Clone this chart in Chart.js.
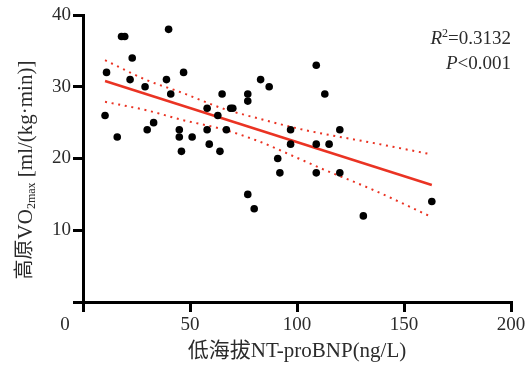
<!DOCTYPE html>
<html>
<head>
<meta charset="utf-8">
<script src="https://cdn.jsdelivr.net/npm/chart.js@4.4.1/dist/chart.umd.min.js"></script>
<style>
  html, body { margin: 0; padding: 0; background: #fff; }
</style>
</head>
<body>
<canvas id="chart" width="531" height="367"></canvas>
<script>
// low-altitude NT-proBNP (ng/L) vs high-altitude VO2max, one entry per subject
const bnpValues = [10.3, 11, 16, 18, 19.5, 23, 22, 29, 30, 33, 40, 39, 41, 47, 45, 45, 46, 51,
    58, 58, 59, 63, 65, 67, 64, 69, 70, 77, 77, 83, 87, 91, 97, 97, 92, 77, 80,
    109, 113, 109, 115, 120, 109, 120, 163, 131];
const vo2Values = [26, 32, 23, 37, 37, 34, 31, 30, 24, 25, 38, 31, 29, 32, 24, 23, 21, 23,
    27, 24, 22, 26, 29, 24, 21, 27, 27, 29, 28, 31, 30, 20, 24, 22, 18, 15, 13,
    33, 29, 22, 22, 24, 18, 18, 14, 12];

// fitted line and its 95% band
const fitX = [10.3, 163];
const fitY = [30.8, 16.3];
const bandX = [10.3, 30, 46, 65, 83, 100, 113, 135, 162.5];
const bandUpper = [33.7, 30.9, 29.2, 27.0, 25.5, 24.2, 23.4, 22.2, 20.6];
const bandLower = [27.9, 26.7, 25.4, 24.1, 22.3, 20.1, 18.4, 15.7, 11.9];

const xTicks = [0, 50, 100, 150, 200];
const yTicks = [0, 10, 20, 30, 40];

const SERIF = "'Liberation Serif', 'Noto Sans CJK SC', serif";
const TEXT = '#2b2b2b';
const RED = '#ea3323';

const toPoints = (xs, ys) => xs.map((x, i) => ({ x: x, y: ys[i] }));

// text the axes can't do by themselves: shared origin 0, stats, y title with subscript
const extraText = {
    id: 'extraText',
    afterDraw(chart) {
        const { ctx, scales } = chart;
        const x = scales.x, y = scales.y;
        ctx.save();
        ctx.fillStyle = TEXT;
        ctx.textBaseline = 'alphabetic';

        ctx.font = '19px ' + SERIF;
        ctx.textAlign = 'center';
        ctx.fillText('0', x.left - 18, y.bottom + 28);

        // R² / P, right aligned at the plot's right edge
        const right = x.right;
        ctx.textAlign = 'left';
        const parts1 = [
            ['italic 19px ' + SERIF, 'R', 0],
            ['12px ' + SERIF, '2', -7],
            ['19px ' + SERIF, '=0.3132', 0]
        ];
        const parts2 = [
            ['italic 19px ' + SERIF, 'P', 0],
            ['19px ' + SERIF, '<0.001', 0]
        ];
        const drawRight = (parts, baseline) => {
            let w = 0;
            parts.forEach(p => { ctx.font = p[0]; w += ctx.measureText(p[1]).width; });
            let cx = right - w;
            parts.forEach(p => {
                ctx.font = p[0];
                ctx.fillText(p[1], cx, baseline + p[2]);
                cx += ctx.measureText(p[1]).width;
            });
        };
        drawRight(parts1, 44);
        drawRight(parts2, 69);

        // rotated y-axis title
        const yParts = [
            ['20px ' + SERIF, '高原', 0],
            ['21px ' + SERIF, 'VO', 0],
            ['12px ' + SERIF, '2max', 6],
            ['21px ' + SERIF, ' [ml/(kg·min)]', 0]
        ];
        let total = 0;
        yParts.forEach(p => { ctx.font = p[0]; total += ctx.measureText(p[1]).width; });
        ctx.textBaseline = 'middle';
        ctx.translate(26, 170);
        ctx.rotate(-Math.PI / 2);
        let px = -total / 2;
        yParts.forEach(p => {
            ctx.font = p[0];
            ctx.fillText(p[1], px, p[2]);
            px += ctx.measureText(p[1]).width;
        });
        ctx.restore();
    }
};

new Chart(document.getElementById('chart'), {
    data: {
        datasets: [
            {
                type: 'scatter',
                data: toPoints(bnpValues, vo2Values),
                backgroundColor: '#000',
                borderWidth: 0,
                pointRadius: 3.8,
                order: 0
            },
            {
                type: 'line',
                data: toPoints(fitX, fitY),
                borderColor: RED,
                borderWidth: 2.5,
                pointRadius: 0,
                fill: false,
                order: 1
            },
            {
                type: 'line',
                data: toPoints(bandX, bandUpper),
                borderColor: RED,
                borderWidth: 2,
                borderDash: [2, 4.7],
                cubicInterpolationMode: 'monotone',
                pointRadius: 0,
                fill: false,
                order: 2
            },
            {
                type: 'line',
                data: toPoints(bandX, bandLower),
                borderColor: RED,
                borderWidth: 2,
                borderDash: [2, 4.7],
                cubicInterpolationMode: 'monotone',
                pointRadius: 0,
                fill: false,
                order: 2
            }
        ]
    },
    options: {
        responsive: false,
        animation: false,
        layout: { padding: { top: 15, right: 20, left: 0, bottom: 0 } },
        plugins: {
            legend: { display: false },
            tooltip: { enabled: false }
        },
        scales: {
            x: {
                type: 'linear',
                min: 0,
                max: 200,
                afterBuildTicks: s => { s.ticks = xTicks.map(v => ({ value: v })); },
                afterFit: s => { s.height = 65; },
                ticks: {
                    callback: v => v === 0 ? '' : v,
                    font: { family: SERIF, size: 19 },
                    color: TEXT,
                    padding: 2,
                    maxRotation: 0
                },
                grid: { drawOnChartArea: false, tickLength: 10, lineWidth: 3, color: '#000' },
                border: { width: 3, color: '#000' },
                title: {
                    display: true,
                    text: '低海拔NT-proBNP(ng/L)',
                    font: { family: SERIF, size: 21 },
                    color: TEXT,
                    padding: { top: 0, bottom: 3 }
                }
            },
            y: {
                type: 'linear',
                min: 0,
                max: 40,
                afterBuildTicks: s => { s.ticks = yTicks.map(v => ({ value: v })); },
                afterFit: s => { s.width = 83; },
                ticks: {
                    callback: v => v === 0 ? '' : v,
                    font: { family: SERIF, size: 19 },
                    color: TEXT,
                    padding: 2
                },
                grid: { drawOnChartArea: false, tickLength: 10, lineWidth: 3, color: '#000' },
                border: { width: 3, color: '#000' }
            }
        }
    },
    plugins: [extraText]
});
</script>
</body>
</html>
